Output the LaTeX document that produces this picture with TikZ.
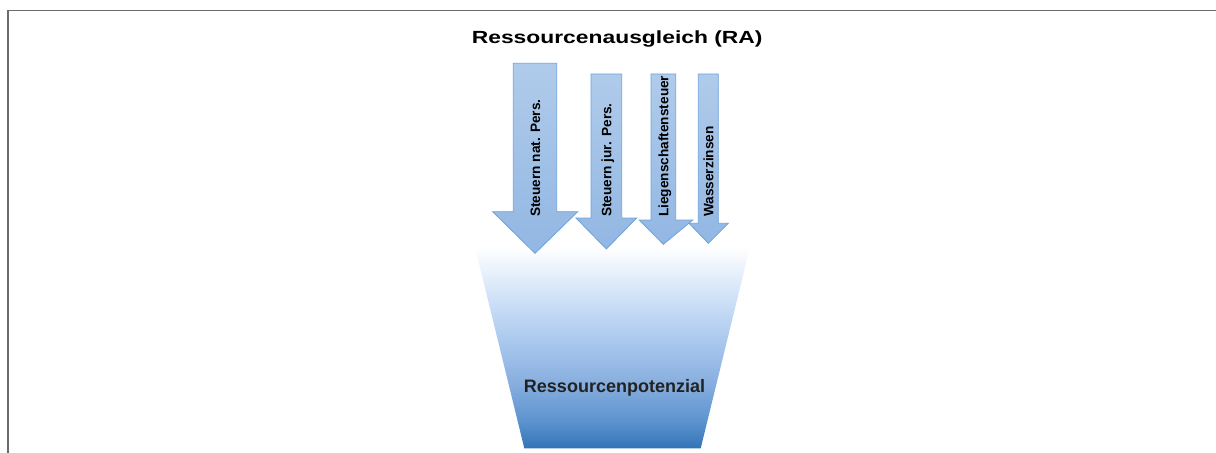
\documentclass[tikz,border=0pt]{standalone}
\usepackage{fontspec}
\setmainfont{Liberation Sans}
\newfontfamily\titlefont[FakeStretch=1.3]{Liberation Sans}
\definecolor{arrowtop}{HTML}{B0CBEA}
\definecolor{arrowbot}{HTML}{92B7E3}
\definecolor{arrowline}{HTML}{6FA3DB}
\definecolor{framegray}{HTML}{6B6B6B}
\definecolor{textdark}{HTML}{222222}
\definecolor{potA}{HTML}{3274B8}
\definecolor{potB}{HTML}{5E94CF}
\definecolor{potC}{HTML}{8AB0E0}
\definecolor{potD}{HTML}{ABC9EE}
\definecolor{potE}{HTML}{CDE0F7}
\pgfdeclareverticalshading{potshade}{100bp}{color(0bp)=(potA); color(25bp)=(potA); color(32bp)=(potB); color(41.9bp)=(potC); color(51.9bp)=(potD); color(61.8bp)=(potE); color(75bp)=(white); color(100bp)=(white)}
\tikzset{
  taxarrow/.style={draw=arrowline, line width=0.6pt, top color=arrowtop, bottom color=arrowbot},
  taxlabel/.style={rotate=90, anchor=base west, inner sep=0pt, font=\fontsize{9.7}{12}\selectfont\bfseries},
}
\begin{document}
\begin{tikzpicture}[x=0.025cm,y=-0.025cm]
\useasboundingbox (0,0) rectangle (1216,453);
\draw[framegray, line width=0.85pt] (1216,10.7)--(8,10.7)--(8,453);

\node (title) at (617.2,43.3)[anchor=base]{\titlefont\fontsize{12.5}{15}\selectfont\bfseries Ressourcenausgleich (RA)};

\shade[shading=potshade] (475,247)--(750,247)--(700.7,448.3)--(524.3,448.3)--cycle;
\node (pot) at (614.5,392.3)[anchor=base, text=textdark, font=\fontsize{12.8}{15}\selectfont\bfseries]{Ressourcenpotenzial};

\foreach \sl/\sr/\top/\base/\hl/\hr/\tip/\name/\txt in {
  513.3/556.7/63.3/211.7/492.7/577.7/253.3/natpers/Steuern nat. Pers.,
  591/621.7/74/218/576/636.7/249/jurpers/Steuern jur. Pers.,
  651/675.7/74/220/639.3/692.7/244.3/liegen/Liegenschaftensteuer,
  698.3/718.3/74/223.3/689/728.3/243.3/wasser/Wasserzinsen}
{
    \path[taxarrow] (\sl,\top)--(\sr,\top)--(\sr,\base)--(\hr,\base)--({(\sl+\sr)/2},\tip)--(\hl,\base)--(\sl,\base)--cycle;
    \node[taxlabel] (\name) at ({(\sl+\sr)/2+5},217) {\txt};
}
\end{tikzpicture}
\end{document}
